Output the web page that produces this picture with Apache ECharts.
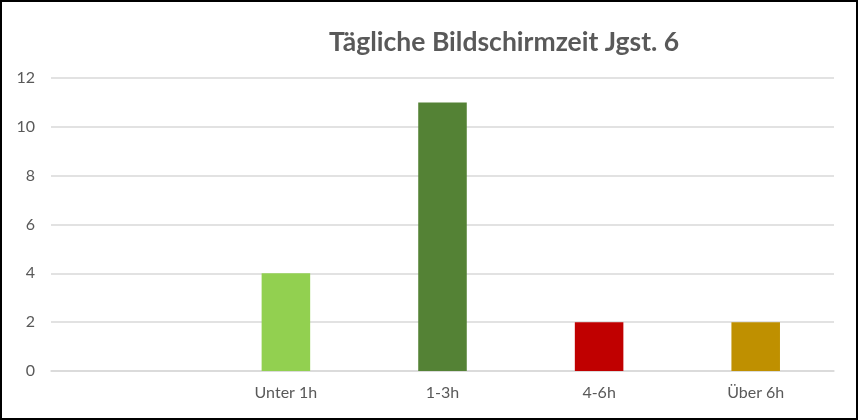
<!DOCTYPE html>
<html>
<head>
<meta charset="utf-8">
<script src="https://cdn.jsdelivr.net/npm/echarts@6/dist/echarts.min.js"></script>
<style>
  html, body { margin: 0; padding: 0; background: #fff; }
  #chart { width: 854px; height: 416px; border: 2px solid #000; }
</style>
</head>
<body>
<div id="chart"></div>
<script>
// Kategorien (erste ist leer wie im Original)
const categories = ["", "Unter 1h", "1-3h", "4-6h", "Über 6h"];
const values = [null, 4, 11, 2, 2];
const barColors = ["#ffffff", "#92D050", "#548235", "#C00000", "#BF9000"];
const yTicks = [0, 2, 4, 6, 8, 10, 12];

const chart = echarts.init(document.getElementById("chart"));

chart.setOption({
    animation: false,
    title: {
        text: "Tägliche Bildschirmzeit Jgst. 6",
        left: 322,
        top: 22,
        textStyle: {
            fontFamily: "Lato",
            fontSize: 26.5,
            fontWeight: "bold",
            color: "#595959",
        },
    },
    grid: { left: 49, right: 22, top: 76, bottom: 47 },
    xAxis: {
        type: "category",
        data: categories,
        axisLine: { lineStyle: { color: "#d9d9d9", width: 1.5 } },
        axisTick: { show: false },
        axisLabel: { color: "#595959", fontFamily: "Lato", fontSize: 16, margin: 14 },
    },
    yAxis: {
        type: "value",
        min: yTicks[0],
        max: yTicks[yTicks.length - 1],
        interval: 2,
        axisLine: { show: false },
        axisTick: { show: false },
        splitLine: { lineStyle: { color: "#d9d9d9", width: 1.5 } },
        axisLabel: { color: "#595959", fontFamily: "Lato", fontSize: 16, margin: 16 },
    },
    series: [
        {
            type: "bar",
            data: values.map((v, i) => ({ value: v, itemStyle: { color: barColors[i] } })),
            barWidth: "31%",
        },
    ],
});
</script>
</body>
</html>
